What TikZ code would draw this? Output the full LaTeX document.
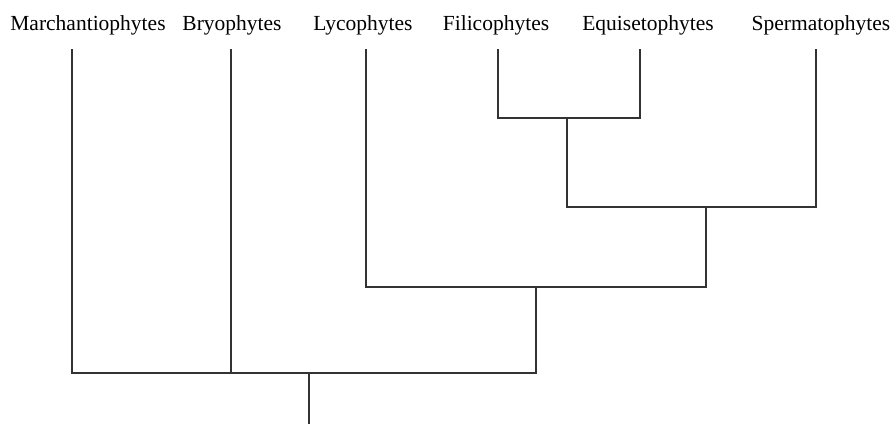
\documentclass[tikz,border=0pt]{standalone}
\usepackage{fontspec}
\setmainfont{Liberation Serif}
\begin{document}
\begin{tikzpicture}[x=1pt,y=-1pt,
    branch/.style={line width=1.3pt, draw=black!80},
    taxon/.style={anchor=base, inner sep=0pt, font=\fontsize{21.5}{24}\selectfont}]
        \useasboundingbox (0,0) rectangle (896,424);

        % taxa names
        \node[taxon] (marc) at (88,30) {Marchantiophytes};
        \node[taxon] (bryo) at (232,30) {Bryophytes};
        \node[taxon] (lyco) at (363,30) {Lycophytes};
        \node[taxon] (fili) at (496,30) {Filicophytes};
        \node[taxon] (equi) at (648,30) {Equisetophytes};
        \node[taxon] (sper) at (821,30) {Spermatophytes};

        % tips and joins
        \coordinate (tmarc) at (72,49);
        \coordinate (tbryo) at (231,49);
        \coordinate (tlyco) at (366,49);
        \coordinate (tfili) at (498,49);
        \coordinate (tequi) at (640,49);
        \coordinate (tsper) at (816,49);
        \coordinate (fe) at (567,118);
        \coordinate (fes) at (706,207);
        \coordinate (lfes) at (536,287);
        \coordinate (root) at (309,373);
        \coordinate (base) at (309,424);

        \draw[branch] (tfili) |- (fe) -| (tequi);
        \draw[branch] (fe) |- (fes) -| (tsper);
        \draw[branch] (tlyco) |- (lfes) -| (fes);
        \draw[branch] (tmarc) |- (root) -| (lfes);
        \draw[branch] (tbryo) -- (tbryo |- root);
        \draw[branch] (root) -- (base);
    \end{tikzpicture}
\end{document}
